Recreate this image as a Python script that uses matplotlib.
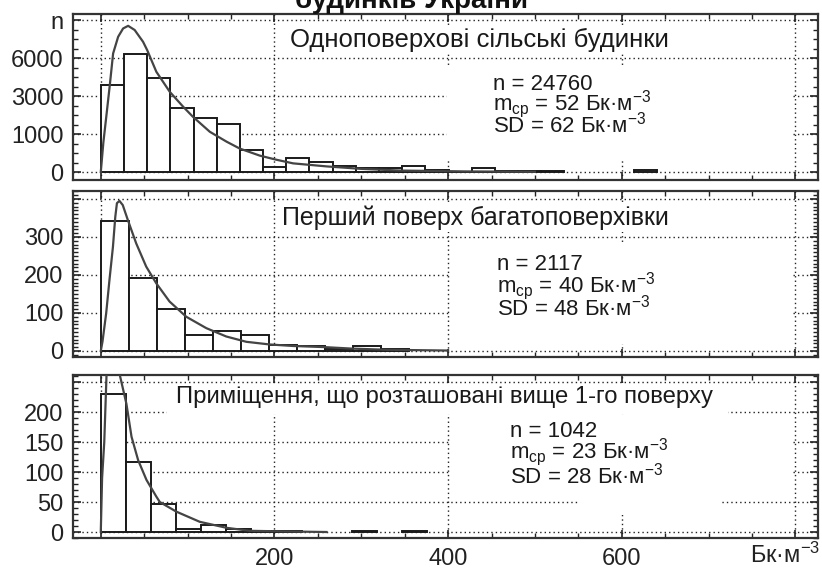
import numpy as np
import matplotlib
matplotlib.use('Agg')
import matplotlib.pyplot as plt
from matplotlib.patches import Rectangle
from matplotlib.ticker import FixedLocator, MultipleLocator

plt.rcParams['font.family'] = ['Liberation Sans', 'DejaVu Sans']
plt.rcParams['mathtext.fontset'] = 'custom'
plt.rcParams['mathtext.rm'] = 'Liberation Sans'
plt.rcParams['mathtext.it'] = 'Liberation Sans:italic'
plt.rcParams['mathtext.bf'] = 'Liberation Sans:bold'

# ------------------ Data ------------------
unit = 'Бк·м$^{-3}$'
fig_title = 'будинків України'
titles = ['Одноповерхові сільські будинки',
          'Перший поверх багатоповерхівки',
          'Приміщення, що розташовані вище 1-го поверху']
n_vals = [24760, 2117, 1042]
m_vals = [52, 40, 23]
sd_vals = [62, 48, 28]

# histogram bin widths (Бк/м3) and counts, nan = no bar drawn
bin_w = [26.7, 32.3, 28.9]
counts_1 = [3770, 6370, 4270, 2240, 1740, 1430, 460, 70, 260, 170, 100, 55,
            55, 92, 25, 0, 62, 15, 15, 10, np.nan, np.nan, np.nan, 25]
counts_2 = [343, 193, 110, 42, 53, 41, 16, 13, 5, 14, 5]
counts_3 = [231, 117, 46, 5, 12, 4.5, 2, 1, np.nan, np.nan, 2, np.nan, 2]

# fitted curves
curve1_x = [0, 3, 6.6, 10.4, 14.2, 20, 25.7, 31.5, 39, 48.7, 53.4, 64, 79.5,
            94.8, 106, 125.6, 144.8, 160, 183, 202, 221.5, 260, 300, 345, 420, 500]
curve1_y = [0, 700, 1900, 3770, 6430, 8120, 9030, 9330, 8860, 7590, 6760, 4800,
            3280, 2340, 1790, 1090, 720, 500, 310, 215, 140, 85, 45, 20, 8, 3]
curve2_x = [0, 2, 6.2, 10, 14, 16.7, 18.6, 21.5, 25.3, 31.1, 40.8, 52.3, 63.9,
            79.2, 98.4, 121.5, 144.5, 167.6, 194.5, 221.5, 258, 290, 330, 400]
curve2_y = [0, 25, 99, 187, 274, 353, 389, 395, 384, 345, 283, 222, 178, 130,
            90, 60, 38, 24, 17, 13, 10, 6, 3, 1]
curve3_x = [0, 1.5, 4, 6.6, 10, 15, 21.9, 29.5, 35.4, 43, 52.6, 64, 68, 87,
            114, 144.8, 171.7, 210, 260]
curve3_y = [0, 90, 150, 262, 300, 300, 262, 214, 159, 120, 87, 59, 50, 34,
            17, 7, 2, 1, 0]

counts = [counts_1, counts_2, counts_3]
curves = [(curve1_x, curve1_y), (curve2_x, curve2_y), (curve3_x, curve3_y)]


# ------------------ Top panel y scale ------------------
def fwd(v):
    v = np.asarray(v, dtype=float)
    return (np.sqrt(np.clip(1 + 8 * v / 1000., 0, None)) - 1) / 2


def inv(k):
    k = np.asarray(k, dtype=float)
    return 1000 * k * (k + 1) / 2


# ------------------ Figure ------------------
W, H = 822, 570
fig = plt.figure(figsize=(W / 100, H / 100), dpi=100)

# axes boxes in pixels: (left, top, right, bottom)
boxes = [(73, 14, 818, 180), (73, 191, 818, 357), (73, 375, 818, 538)]
axes = []
for (l, t, r, b) in boxes:
    axes.append(fig.add_axes([l / W, 1 - b / H, (r - l) / W, (b - t) / H]))

fs = 17
stat_fs = 16
title_fs = [18.5, 18, 17.2]
edge = '#1a1a1a'

for i, ax in enumerate(axes):
    ax.set_axisbelow(True)
    c = np.array(counts[i], dtype=float)
    left = np.arange(len(c)) * bin_w[i]
    ok = ~np.isnan(c)
    ax.bar(left[ok], c[ok], width=bin_w[i], align='edge', color='white',
           edgecolor=edge, linewidth=1.4, zorder=2)
    cx, cy = curves[i]
    ax.plot(cx, cy, color='#444444', lw=1.6, zorder=3)

    ax.set_xlim(-32, 826)
    ax.xaxis.set_major_locator(FixedLocator([0, 200, 400, 600, 800]))
    ax.xaxis.set_minor_locator(MultipleLocator(50))
    if i < 2:
        ax.set_xticklabels([])
    else:
        ax.set_xticklabels(['', '200', '400', '600', ''])

    ax.grid(True, which='major', linestyle=(0, (1, 2.2)), color='#222222', lw=1.0)
    ax.tick_params(which='both', direction='in', top=True, right=True,
                   labelsize=fs, colors='#222222')
    ax.tick_params(which='major', length=6, width=1.2, pad=7)
    ax.tick_params(which='minor', length=3.5, width=1.0)
    for s in ax.spines.values():
        s.set_linewidth(1.6)
        s.set_color('#333333')

# panel 1: compressed count axis
ax = axes[0]
ax.set_yscale('function', functions=(fwd, inv))
ax.set_ylim(inv(-0.21), inv(4.16))
ax.yaxis.set_major_locator(FixedLocator([0, 1000, 3000, 6000, 10000]))
ax.set_yticklabels(['0', '1000', '3000', '6000', 'n'])
ax.yaxis.set_minor_locator(FixedLocator(inv(np.arange(0, 4.01, 0.25))))

ax = axes[1]
ax.set_ylim(-16, 421)
ax.yaxis.set_major_locator(FixedLocator([0, 100, 200, 300, 400]))
ax.set_yticklabels(['0', '100', '200', '300', ''])
ax.yaxis.set_minor_locator(MultipleLocator(10))

ax = axes[2]
ax.set_ylim(-10, 262)
ax.yaxis.set_major_locator(FixedLocator([0, 50, 100, 150, 200, 250]))
ax.set_yticklabels(['0', '50', '100', '150', '200', ''])
ax.yaxis.set_minor_locator(MultipleLocator(10))

# unit label under the 800 tick, kept inside the picture
fig.text(785 / W, 1 - 563 / H, unit, ha='center', va='baseline',
         fontsize=fs, color='#222222')

# white boxes behind the labels (hide the grid there)
white_boxes = [
    [(0.502, 0.12, 0.464, 0.57)],
    [(0.507, 0.078, 0.459, 0.597)],
    [(0.506, 0.245, 0.46, 0.503), (0.681, 0.141, 0.187, 0.104),
     (0.126, 0.761, 0.753, 0.184)],
]
for ax, rects in zip(axes, white_boxes):
    for (x0, y0, w, h) in rects:
        ax.add_patch(Rectangle((x0, y0), w, h, transform=ax.transAxes,
                               facecolor='white', edgecolor='none', zorder=1))

# titles and stats
title_pos = [(0.545, 0.843), (0.540, 0.837), (0.499, 0.865)]
stat_x = [0.564, 0.569, 0.587]
stat_y = [(0.542, 0.422, 0.289), (0.524, 0.392, 0.253), (0.620, 0.491, 0.337)]
for i, ax in enumerate(axes):
    tx, ty = title_pos[i]
    ax.text(tx, ty, titles[i], transform=ax.transAxes, ha='center', va='center',
            fontsize=title_fs[i], color='#1a1a1a', zorder=4,
            bbox=dict(facecolor='white', edgecolor='none', pad=1))
    y1, y2, y3 = stat_y[i]
    ax.text(stat_x[i], y1, f'n = {n_vals[i]}', transform=ax.transAxes,
            va='baseline', fontsize=stat_fs, color='#1a1a1a', zorder=4)
    ax.text(stat_x[i], y2, 'm$_{\\mathrm{ср}}$ = ' + f'{m_vals[i]} ' + unit,
            transform=ax.transAxes, va='baseline', fontsize=stat_fs,
            color='#1a1a1a', zorder=4)
    ax.text(stat_x[i], y3, f'SD = {sd_vals[i]} ' + unit, transform=ax.transAxes,
            va='baseline', fontsize=stat_fs, color='#1a1a1a', zorder=4)

# figure title, cut off by the top edge as in the source
fig.text(0.5, 1 - 8 / H, fig_title, ha='center', va='baseline',
         fontsize=20, fontweight='bold', color='#111111')

fig.savefig('out.png', dpi=100)
